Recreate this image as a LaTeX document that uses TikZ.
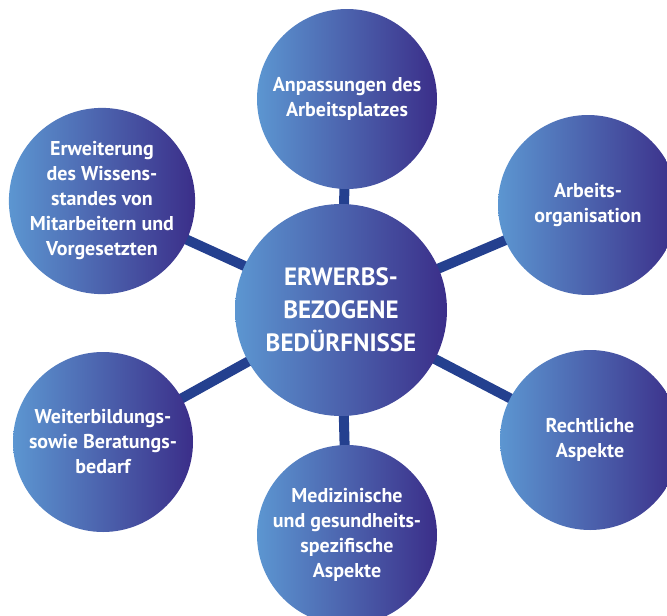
\documentclass[tikz,border=0pt]{standalone}
\usepackage{fontspec}
\setmainfont{PT Sans}
\usepackage{xcolor}
\usepackage{tikz}
\usetikzlibrary{backgrounds}

\definecolor{hellblau}{HTML}{5C96D1}
\definecolor{dunkelblau}{HTML}{3B2E89}
\definecolor{linienblau}{HTML}{24408F}

\begin{document}
\begin{tikzpicture}[x=1pt, y=-1pt,
		kreis/.style={circle, inner sep=0pt, minimum size=180pt, left color=hellblau, right color=dunkelblau, text=white, align=center, font=\bfseries\fontsize{20}{25}\selectfont},
		kern/.style={kreis, minimum size=212pt, font=\bfseries\fontsize{25}{33}\selectfont},
		verbindung/.style={line width=10pt, linienblau}]
		%frame
		\useasboundingbox (0,0) rectangle (667,616);

		%circles
		\node [kern] (kern) at (341,310) {ERWERBS-\\BEZOGENE\\BEDÜRFNISSE};
		\node [kreis] (platz) at (347,99) {Anpassungen des\\Arbeitsplatzes};
		\node [kreis] (orga) at (588,205) {Arbeits-\\organisation};
		\node [kreis] (recht) at (590,440) {Rechtliche\\Aspekte};
		\node [kreis] (medizin) at (347,535) {Medizinische\\und gesundheits-\\spezifische\\Aspekte};
		\node [kreis] (bildung) at (103,442) {Weiterbildungs-\\sowie Beratungs-\\bedarf};
		\node [kreis] (wissen) at (102,201) {Erweiterung\\des Wissens-\\standes von\\Mitarbeitern und\\Vorgesetzten};

		%connectors
		\begin{scope}[on background layer]
		\foreach \n in {platz, orga, recht, medizin, bildung, wissen}
			\draw [verbindung] (kern.center) -- (\n.center);
		\end{scope}
	\end{tikzpicture}
\end{document}
